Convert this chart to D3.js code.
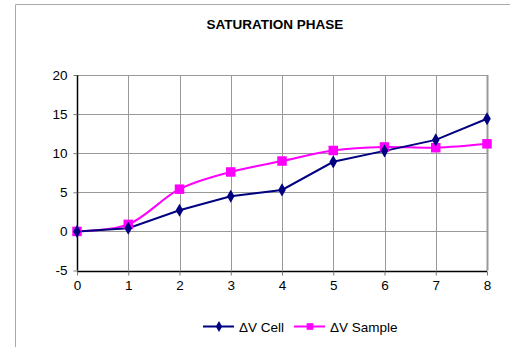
<!DOCTYPE html>
<html><head><meta charset="utf-8">
<script src="https://cdn.jsdelivr.net/npm/d3@7"></script>
<style>body{margin:0;background:#fff;}svg{display:block;font-family:"Liberation Sans",Arial,sans-serif;}</style>
</head><body><svg id="c" width="510" height="347"></svg>
<script>
const xValues = [0,1,2,3,4,5,6,7,8];
const cellValues = [0,0.4,2.7,4.5,5.3,8.9,10.3,11.7,14.4];
const sampleValues = [0,0.9,5.4,7.6,9.0,10.35,10.8,10.7,11.2];
const yTicks = [-5,0,5,10,15,20];
const title = "SATURATION PHASE";
const seriesNames = ["ΔV Cell","ΔV Sample"];

const svg = d3.select("#c");
// outer frame
svg.append("path").attr("d","M15.5,347 V4.5 H510").attr("fill","none").attr("stroke","#aaa").attr("stroke-width",1);

const x = d3.scaleLinear().domain([0,8]).range([77,487]);
const y = d3.scaleLinear().domain([-5,20]).range([270.5,75]);

const g = svg.append("g");
g.selectAll(".vg").data(xValues.slice(1)).join("line")
 .attr("x1",d=>Math.round(x(d))+0.5).attr("x2",d=>Math.round(x(d))+0.5)
 .attr("y1",y(20)).attr("y2",y(-5)).attr("stroke","#999").attr("stroke-width",1);
g.selectAll(".hg").data(yTicks.slice(1)).join("line")
 .attr("x1",x(0)).attr("x2",x(8))
 .attr("y1",d=>Math.round(y(d))+0.5).attr("y2",d=>Math.round(y(d))+0.5).attr("stroke","#999").attr("stroke-width",1);
g.append("line").attr("x1",x(8)+0.5).attr("x2",x(8)+0.5).attr("y1",y(20)).attr("y2",y(-5)).attr("stroke","#999").attr("stroke-width",2);

const fmt = d => String(d);
const yAxis = d3.axisLeft(y).tickValues(yTicks).tickSize(4).tickPadding(6).tickFormat(fmt);
const ya = svg.append("g").attr("transform",`translate(${Math.round(x(0))+0.5},0)`).call(yAxis);
const xAxis = d3.axisBottom(x).tickValues(xValues).tickSize(4).tickPadding(5).tickFormat(fmt);
const xa = svg.append("g").attr("transform",`translate(0,${Math.round(y(-5))+0.5})`).call(xAxis);
[ya,xa].forEach(a=>{
  a.select(".domain").attr("stroke","#000").attr("stroke-width",1.5);
  a.selectAll(".tick line").attr("stroke","#777");
  a.selectAll(".tick text").attr("font-size",13.5).attr("fill","#000").attr("font-family","Liberation Sans, Arial, sans-serif");
});
xa.select(".domain").attr("d",`M${x(0)},0H${x(8)}`);
ya.select(".domain").attr("d",`M0,${y(20)}V${y(-5)}`);

svg.append("text").attr("x",275).attr("y",29).attr("text-anchor","middle")
 .attr("font-size",13.5).attr("font-weight","bold").text(title);

const lineCell = d3.line().x((d,i)=>x(xValues[i])).y(d=>y(d));
const lineSample = d3.line().x((d,i)=>x(xValues[i])).y(d=>y(d)).curve(d3.curveCatmullRom.alpha(0.5));
svg.append("path").attr("d",lineSample(sampleValues)).attr("fill","none").attr("stroke","#ff00ff").attr("stroke-width",2);
svg.append("path").attr("d",lineCell(cellValues)).attr("fill","none").attr("stroke","#000080").attr("stroke-width",2);

const sq = d3.symbol().type(d3.symbolSquare).size(90);
const di = d3.symbol().type(d3.symbolDiamond).size(50);
svg.selectAll(".ms").data(sampleValues).join("path")
 .attr("d",sq).attr("transform",(d,i)=>`translate(${x(xValues[i])},${y(d)})`).attr("fill","#ff00ff");
svg.selectAll(".mc").data(cellValues).join("path")
 .attr("d",di).attr("transform",(d,i)=>`translate(${x(xValues[i])},${y(d)})`).attr("fill","#000080");

const lg = svg.append("g");
const legendItems = [
  {name:seriesNames[0],color:"#000080",sym:d3.symbol().type(d3.symbolDiamond).size(35),x0:203},
  {name:seriesNames[1],color:"#ff00ff",sym:d3.symbol().type(d3.symbolSquare).size(45),x0:294}
];
legendItems.forEach(it=>{
  lg.append("line").attr("x1",it.x0).attr("x2",it.x0+31).attr("y1",326.5).attr("y2",326.5).attr("stroke",it.color).attr("stroke-width",2);
  lg.append("path").attr("d",it.sym).attr("transform",`translate(${it.x0+16},326.5)`).attr("fill",it.color);
  lg.append("text").attr("x",it.x0+36).attr("y",331.5).attr("font-size",13.5).text(it.name);
});
</script></body></html>
